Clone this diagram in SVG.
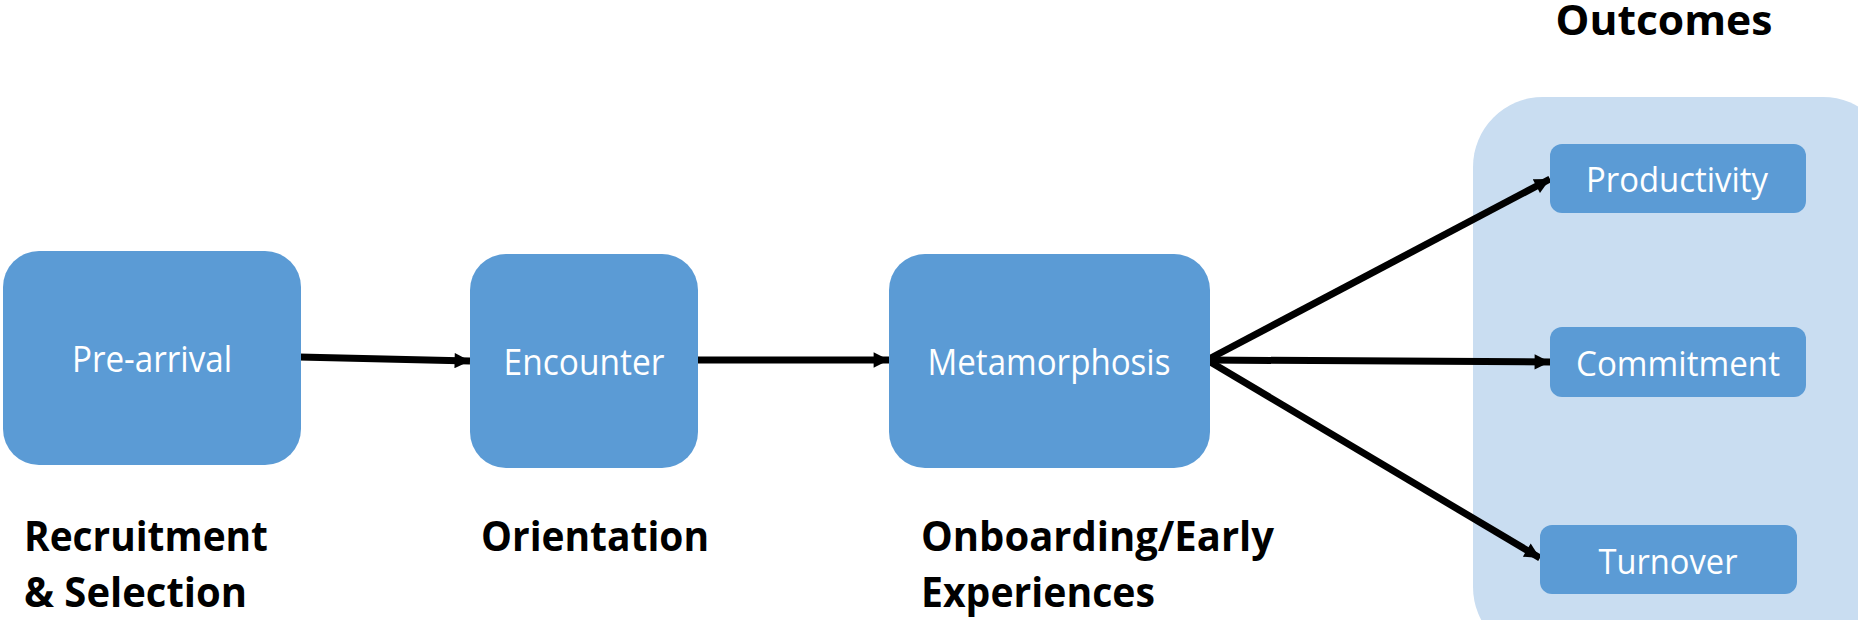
<svg xmlns="http://www.w3.org/2000/svg" width="1858" height="620" viewBox="0 0 1858 620">
<defs>
<style>
.box{fill:#5B9BD5;}
.lbl{font-family:"Open Sans","Liberation Sans",sans-serif;fill:#fff;font-size:36px;text-anchor:middle;}
.olbl{font-family:"Open Sans","Liberation Sans",sans-serif;fill:#fff;font-size:34px;text-anchor:middle;}
.cap{font-family:"Open Sans","Liberation Sans",sans-serif;font-weight:bold;fill:#000;font-size:42px;}
.edge{stroke:#000;stroke-width:7;fill:none;marker-end:url(#ah);}
</style>
<marker id="ah" viewBox="0 0 10 10" refX="10" refY="5" markerWidth="2.3" markerHeight="2.2" orient="auto" markerUnits="strokeWidth">
<path d="M0,0 L10,5 L0,10 z" fill="#000"/>
</marker>
</defs>
<rect width="1858" height="620" fill="#fff"/>
<g id="outcomes-group">
<rect x="1473" y="97" width="420" height="560" rx="70" fill="#C9DDF1"/>
<text class="cap" x="1664" y="35" text-anchor="middle" font-size="40" textLength="217" lengthAdjust="spacingAndGlyphs">Outcomes</text>
</g>
<g id="connectors">
<line class="edge" x1="299" y1="357" x2="470" y2="361"/>
<line class="edge" x1="698" y1="360" x2="889" y2="360"/>
<line class="edge" x1="1207" y1="360" x2="1550" y2="179"/>
<line class="edge" x1="1207" y1="360" x2="1550" y2="362"/>
<line class="edge" x1="1207" y1="360" x2="1540" y2="558"/>
<circle cx="1207" cy="360" r="4.5" fill="#000"/>
</g>
<g id="pre-arrival">
<rect class="box" x="3" y="251" width="298" height="214" rx="36"/>
<text class="lbl" x="152" y="372" textLength="160" lengthAdjust="spacingAndGlyphs">Pre-arrival</text>
</g>
<g id="encounter">
<rect class="box" x="470" y="254" width="228" height="214" rx="36"/>
<text class="lbl" x="584" y="375" textLength="161" lengthAdjust="spacingAndGlyphs">Encounter</text>
</g>
<g id="metamorphosis">
<rect class="box" x="889" y="254" width="321" height="214" rx="36"/>
<text class="lbl" x="1049" y="375" textLength="243" lengthAdjust="spacingAndGlyphs">Metamorphosis</text>
</g>
<g id="productivity">
<rect class="box" x="1550" y="144" width="256" height="69" rx="12"/>
<text class="olbl" x="1677" y="192" textLength="182" lengthAdjust="spacingAndGlyphs">Productivity</text>
</g>
<g id="commitment">
<rect class="box" x="1550" y="327" width="256" height="70" rx="12"/>
<text class="olbl" x="1678" y="376" textLength="204" lengthAdjust="spacingAndGlyphs">Commitment</text>
</g>
<g id="turnover">
<rect class="box" x="1540" y="525" width="257" height="69" rx="12"/>
<text class="olbl" x="1668" y="574" textLength="139" lengthAdjust="spacingAndGlyphs">Turnover</text>
</g>
<g id="stage-labels">
<text class="cap" x="24" y="551" textLength="244" lengthAdjust="spacingAndGlyphs">Recruitment</text>
<text class="cap" x="24" y="607" textLength="223" lengthAdjust="spacingAndGlyphs">&amp; Selection</text>
<text class="cap" x="481" y="551" textLength="228" lengthAdjust="spacingAndGlyphs">Orientation</text>
<text class="cap" x="921" y="551" textLength="353" lengthAdjust="spacingAndGlyphs">Onboarding/Early</text>
<text class="cap" x="921" y="607" textLength="234" lengthAdjust="spacingAndGlyphs">Experiences</text>
</g>
</svg>
